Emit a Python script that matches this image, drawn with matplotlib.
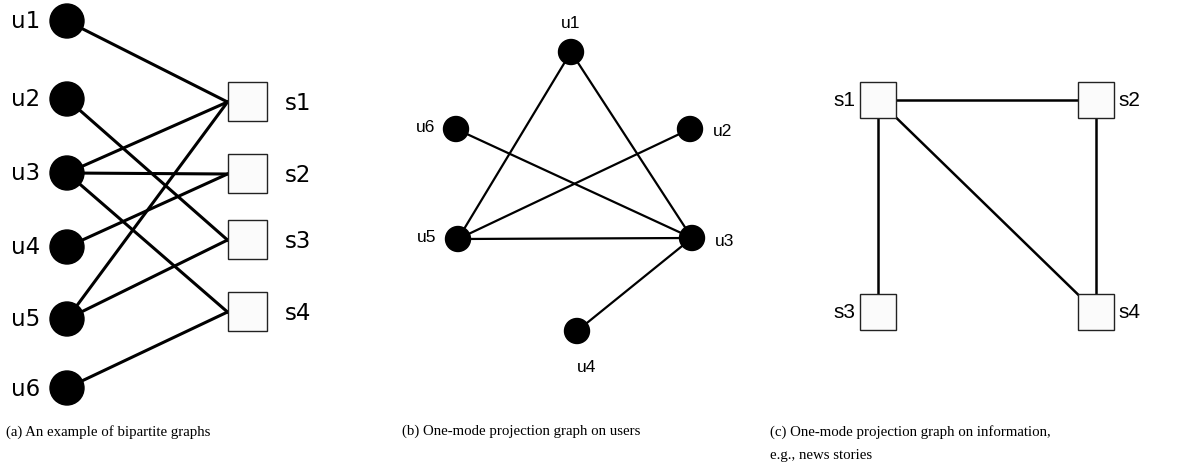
import matplotlib.pyplot as plt
from matplotlib.patches import Circle, Rectangle

# (a) bipartite graph, positions in pixels of the original figure
users = ['u1', 'u2', 'u3', 'u4', 'u5', 'u6']
users_a_x = [67, 67, 67, 67, 67, 67]
users_a_y = [21, 99, 173, 247, 319, 388]
stories = ['s1', 's2', 's3', 's4']
stories_a_x = [247, 247, 247, 247]
stories_a_y = [102, 174, 240, 312]
edges_a = [('u1', 's1'), ('u2', 's3'), ('u3', 's1'), ('u3', 's2'), ('u3', 's4'),
           ('u4', 's2'), ('u5', 's1'), ('u5', 's3'), ('u6', 's4')]

# (b) projection on users
users_b_x = [571, 690, 692, 577, 458, 456]
users_b_y = [52, 129, 238, 331, 239, 129]
label_b_x = [571, 723, 725, 587, 427, 426]
label_b_y = [24, 131, 241, 367, 238, 128]
edges_b = [('u1', 'u5'), ('u1', 'u3'), ('u6', 'u3'), ('u2', 'u5'), ('u5', 'u3'), ('u3', 'u4')]

# (c) projection on stories
stories_c_x = [878, 1096, 878, 1096]
stories_c_y = [100, 100, 312, 312]
label_c_side = ['left', 'right', 'left', 'right']
edges_c = [('s1', 's2'), ('s1', 's3'), ('s2', 's4'), ('s1', 's4')]

captions = ['(a) An example of bipartite graphs',
            '(b) One-mode projection graph on users',
            '(c) One-mode projection graph on information,\ne.g., news stories']
caption_x = [6, 402, 770]

fig = plt.figure(figsize=(11.96, 4.69), dpi=100)
ax = fig.add_axes([0, 0, 1, 1])
ax.set_xlim(0, 1196)
ax.set_ylim(469, 0)
ax.axis('off')

sans = 'Liberation Sans'

# panel a
ua = dict(zip(users, zip(users_a_x, users_a_y)))
sa = dict(zip(stories, zip(stories_a_x, stories_a_y)))
half = 19.5
for u, s in edges_a:
    (x0, y0), (x1, y1) = ua[u], sa[s]
    ax.plot([x0, x1 - half], [y0, y1], color='black', lw=2.2, zorder=1)
for name, (x, y) in ua.items():
    ax.add_patch(Circle((x, y), 17, color='black', zorder=3))
    ax.text(x - 27, y + 1, name, ha='right', va='center', fontsize=16.5, family='DejaVu Sans')
for name, (x, y) in sa.items():
    ax.add_patch(Rectangle((x - half, y - half), 2 * half, 2 * half, facecolor='#fbfbfb',
                           edgecolor='#222222', lw=1.0, zorder=3))
    ax.text(x + half + 18, y + 1, name, ha='left', va='center', fontsize=16.5,
            family='DejaVu Sans')

# panel b
ub = dict(zip(users, zip(users_b_x, users_b_y)))
for a, b in edges_b:
    ax.plot([ub[a][0], ub[b][0]], [ub[a][1], ub[b][1]], color='black', lw=1.6, zorder=1)
for i, name in enumerate(users):
    ax.add_patch(Circle(ub[name], 12.5, color='black', zorder=3))
    ax.text(label_b_x[i], label_b_y[i], name, ha='center', va='center',
            fontsize=12.5, family=sans)

# panel c
sc = dict(zip(stories, zip(stories_c_x, stories_c_y)))
hc = 18
for a, b in edges_c:
    ax.plot([sc[a][0], sc[b][0]], [sc[a][1], sc[b][1]], color='black', lw=1.8, zorder=1)
for i, name in enumerate(stories):
    x, y = sc[name]
    ax.add_patch(Rectangle((x - hc, y - hc), 2 * hc, 2 * hc, facecolor='#fbfbfb',
                           edgecolor='#222222', lw=1.0, zorder=3))
    if label_c_side[i] == 'left':
        ax.text(x - hc - 5, y, name, ha='right', va='center', fontsize=15, family=sans)
    else:
        ax.text(x + hc + 4, y, name, ha='left', va='center', fontsize=15, family=sans)

for txt, x in zip(captions, caption_x):
    ax.text(x, 425, txt, ha='left', va='top', fontsize=10.7, family='Liberation Serif',
            linespacing=2.05)

fig.savefig('out.png', dpi=100)
